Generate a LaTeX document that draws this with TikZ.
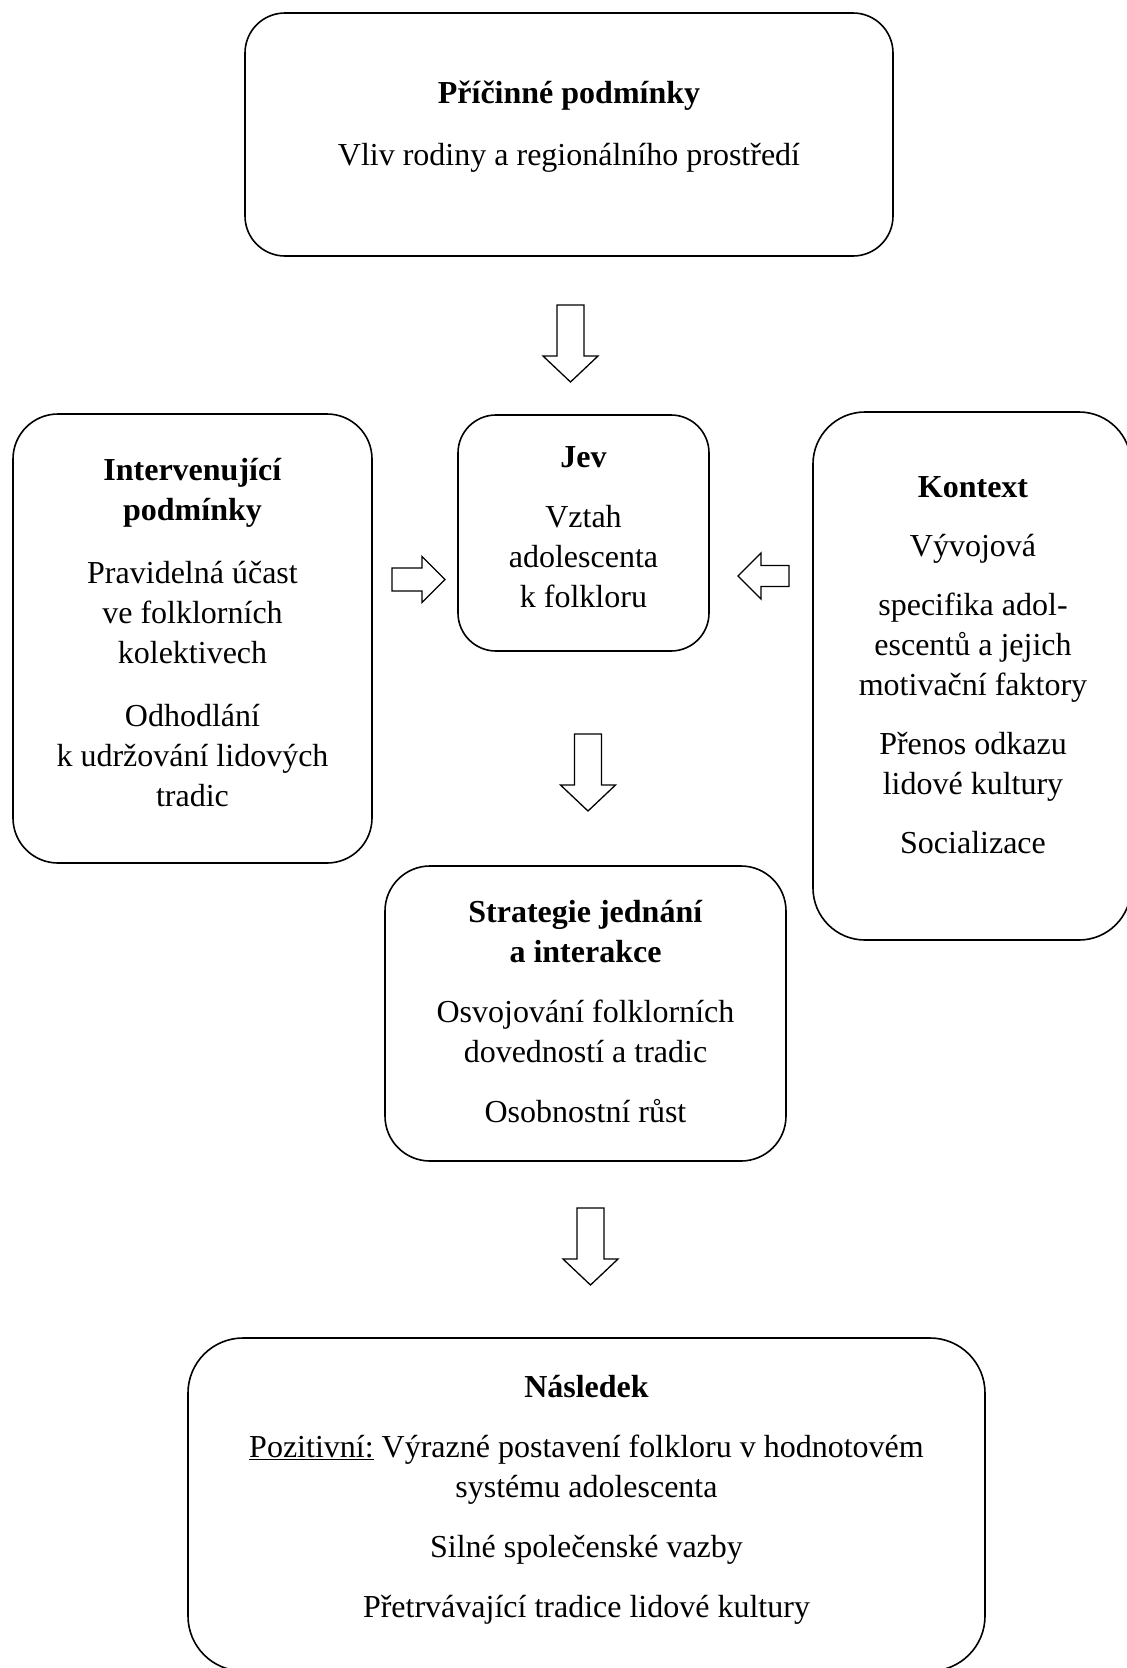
\documentclass[tikz,border=0pt]{standalone}
\usepackage{fontspec}
\setmainfont{Liberation Serif}
\begin{document}
\begin{tikzpicture}[x=1pt,y=-1pt,
  box/.style={draw, line width=1.6pt, rectangle, inner sep=0pt},
  txt/.style={align=center, inner sep=0pt, anchor=base, font=\fontsize{32}{40}\selectfont},
  blk/.style={draw, line width=1.3pt, line join=miter, fill=white},
  darrow/.pic={\draw[blk] (-13.5,0) -- (13.5,0) -- (13.5,51) -- (27.5,51) -- (0,77) -- (-27.5,51) -- (-13.5,51) -- cycle;},
  rarrow/.pic={\draw[blk] (0,-11.5) -- (30,-11.5) -- (30,-23) -- (53,0) -- (30,23) -- (30,11.5) -- (0,11.5) -- cycle;},
  larrow/.pic={\draw[blk] (0,-10.5) -- (-28,-10.5) -- (-28,-23) -- (-51,0) -- (-28,23) -- (-28,10.5) -- (0,10.5) -- cycle;}
]
\fill[white] (0,0) rectangle (1127,1668);
\useasboundingbox (0,0) rectangle (1127,1668);

% boxes
\node[box, rounded corners=40pt, minimum width=648pt, minimum height=243pt] (topbox) at (569,134.5) {};
\node[box, rounded corners=45pt, minimum width=359pt, minimum height=449pt] (leftbox) at (192.5,638.5) {};
\node[box, rounded corners=38pt, minimum width=251pt, minimum height=236pt] (jevbox) at (583.5,533) {};
\node[box, rounded corners=52pt, minimum width=318pt, minimum height=528pt] (ctxbox) at (972,676) {};
\node[box, rounded corners=45pt, minimum width=401pt, minimum height=295pt] (strbox) at (585.5,1013.5) {};
\node[box, rounded corners=55pt, minimum width=797pt, minimum height=333pt] (resbox) at (586.5,1504.5) {};

% texts (anchored at the baseline of the last line)
\node[txt] (toptext) at (569,165) {\textbf{Příčinné podmínky}\\[22pt]Vliv rodiny a regionálního prostředí};
\node[txt] (lefttext) at (192.5,806) {\textbf{Intervenující}\\\textbf{podmínky}\\[23pt]Pravidelná účast\\ve folklorních\\kolektivech\\[23pt]Odhodlání\\k udržování lidových\\tradic};
\node[txt] (jevtext) at (583.5,607) {\textbf{Jev}\\[20pt]Vztah\\adolescenta\\k folkloru};
\node[txt] (ctxtext) at (973,853) {\textbf{Kontext}\\[19pt]Vývojová\\[19pt]specifika adol-\\escentů a jejich\\motivační faktory\\[19pt]Přenos odkazu\\lidové kultury\\[19pt]Socializace};
\node[txt] (strtext) at (585.5,1122) {\textbf{Strategie jednání}\\\textbf{a interakce}\\[20pt]Osvojování folklorních\\dovedností a tradic\\[20pt]Osobnostní růst};
\node[txt] (restext) at (586.5,1617) {\textbf{Následek}\\[20pt]\underline{Pozitivní:} Výrazné postavení folkloru v hodnotovém\\systému adolescenta\\[20pt]Silné společenské vazby\\[20pt]Přetrvávající tradice lidové kultury};

% block arrows
\pic (a1) at (570.5,305) {darrow};
\pic (a2) at (588,734) {darrow};
\pic (a3) at (590.5,1208) {darrow};
\pic (a4) at (392,579.5) {rarrow};
\pic (a5) at (789,576) {larrow};
\end{tikzpicture}
\end{document}
